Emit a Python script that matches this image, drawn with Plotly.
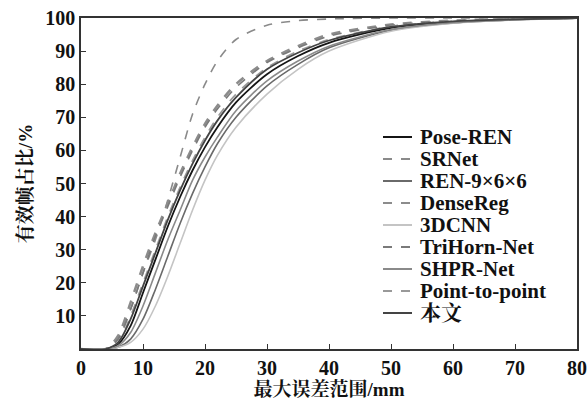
import plotly.graph_objects as go

x_mm = [0, 4, 6, 8, 10, 12, 14, 16, 18, 20, 22, 25, 30, 35, 40, 50, 60, 70, 80]

names = ["Pose-REN", "SRNet", "REN-9×6×6", "DenseReg", "3DCNN",
         "TriHorn-Net", "SHPR-Net", "Point-to-point", "本文"]

pose_ren = [0, 0, 1.5, 7, 17, 27, 37, 46, 54, 61, 67, 74.5, 83, 88.5, 92.5, 97, 98.8, 99.6, 100]
srnet = [0, 0, 3, 12, 23, 33, 45, 58, 71, 80, 87, 93.5, 97.8, 99.2, 99.7, 100, 100, 100, 100]
ren = [0, 0, 0.5, 3, 9, 18, 28, 38, 47, 55, 62, 70, 79.5, 86, 91, 96.3, 98.5, 99.5, 100]
densereg = [0, 0, 4, 14, 25, 35, 44, 53, 61, 68, 73.5, 80, 87, 91.5, 95, 98, 99.2, 99.7, 100]
cnn3d = [0, 0, 0.5, 2, 6, 13, 22, 32, 42, 51, 58.5, 67, 77, 84.5, 90, 96, 98.4, 99.4, 100]
trihorn = [0, 0, 3, 12, 23, 34, 43, 52, 60, 67, 72.5, 79, 86.5, 91, 94.5, 97.8, 99.1, 99.7, 100]
shpr = [0, 0, 1, 5, 13, 23, 33, 42, 51, 58, 64, 72, 81, 87, 91.5, 96.5, 98.6, 99.5, 100]
p2p = [0, 0, 2, 10, 20, 30, 40, 49, 57, 64, 70, 77, 85, 90, 93.5, 97.5, 99, 99.6, 100]
ours = [0, 0, 2, 9, 19, 29, 39, 48, 56, 63, 69, 76, 84.5, 89.5, 93.2, 97.3, 99, 99.6, 100]

series = [pose_ren, srnet, ren, densereg, cnn3d, trihorn, shpr, p2p, ours]
colors = ["#151515", "#8a8a8a", "#6a6a6a", "#8c8c8c", "#c4c4c4",
          "#7a7a7a", "#8a8a8a", "#999999", "#444444"]
dashes = ["solid", "dash", "solid", "dash", "solid", "dash", "solid", "dash", "solid"]
widths = [1.8, 1.6, 1.6, 2.6, 1.6, 1.6, 1.6, 1.6, 1.8]

FONT = "Liberation Serif, Noto Serif CJK SC, Noto Sans CJK SC, serif"

ML, MR, MT, MB = 81, 10, 18, 52
W, H = 587, 401
PW, PH = W - ML - MR, H - MT - MB

fig = go.Figure()
for n, ys, c, d, w in zip(names, series, colors, dashes, widths):
    fig.add_trace(go.Scatter(x=x_mm, y=ys, mode="lines", name=n, showlegend=False,
                             line=dict(color=c, dash=d, width=w, shape="spline", smoothing=0.8)))

# manual legend (compact, like the reference)
leg_top_px, leg_step_px = 137, 22
line_x0_px, line_x1_px, text_x_px = 383, 412, 418
for i, (n, c, d) in enumerate(zip(names, colors, dashes)):
    ypx = leg_top_px + leg_step_px * i
    yp = (H - MB - ypx) / PH
    fig.add_shape(type="line", xref="paper", yref="paper",
                  x0=(line_x0_px - ML) / PW, x1=(line_x1_px - ML) / PW, y0=yp, y1=yp,
                  line=dict(color=c, dash=d, width=2))
    fig.add_annotation(xref="paper", yref="paper", x=(text_x_px - ML) / PW, y=yp,
                       xanchor="left", yanchor="middle", showarrow=False,
                       text="<b>%s</b>" % n,
                       font=dict(family=FONT, size=21, color="#111111"))

fig.update_layout(
    width=W, height=H,
    margin=dict(l=ML, r=MR, t=MT, b=MB),
    paper_bgcolor="white", plot_bgcolor="white",
    font=dict(family=FONT, size=20, color="#111111"),
    showlegend=False,
)
fig.update_xaxes(range=[0, 80], tickvals=list(range(0, 81, 10)),
                 ticks="inside", ticklen=5, tickcolor="#333333",
                 showline=True, linecolor="#333333", linewidth=1.5, mirror=True,
                 showgrid=False, zeroline=False, automargin=False,
                 tickfont=dict(family=FONT, size=20, weight="bold"),
                 title=dict(text="最大误差范围/mm", standoff=0,
                            font=dict(family=FONT, size=19, weight="bold")))
fig.update_yaxes(range=[0, 100], tickvals=list(range(10, 101, 10)),
                 ticks="inside", ticklen=5, tickcolor="#333333",
                 showline=True, linecolor="#333333", linewidth=1.5, mirror=True,
                 showgrid=False, zeroline=False, automargin=False,
                 tickfont=dict(family=FONT, size=20, weight="bold"),
                 title=dict(text="有效帧占比/%", standoff=8,
                            font=dict(family=FONT, size=19, weight="bold")))

fig.write_html("out.html", config={"displayModeBar": False},
               post_script="document.body.style.margin='0';document.body.style.padding='0';")
